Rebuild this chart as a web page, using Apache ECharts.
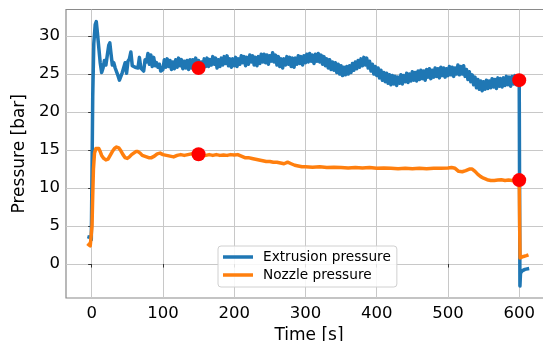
<!DOCTYPE html>
<html>
<head>
<meta charset="utf-8">
<script src="https://cdn.jsdelivr.net/npm/echarts@6/dist/echarts.min.js"></script>
<style>html,body{margin:0;padding:0;background:#fff}#c{width:543px;height:341px}</style>
</head>
<body>
<div id="c"></div>
<script>
// ---- data ----
const extrusionTime = [-6,-4,-2,-0.5,0.5,1.5,3,5,6.5,8,10,12,14,16,18,20,22,24,25.5,27,29,31,33,35,37,39,41,43,45,47,49,51,53,55,57,59,61,63,65,67,69,71,73,75,77,79,81,83,85,87,89,91,93,95,97,
  100,102,104,106,108,110,112,114,116,118,120,122,124,126,128,130,132,134,136,138,
  140,142,144,146,148,150,152,154,156,158,160,162,164,166,168,170,172,174,176,178,
  180,182,184,186,188,190,192,194,196,198,200,202,204,206,208,210,212,214,216,218,
  220,222,224,226,228,230,232,234,236,238,240,242,244,246,248,250,252,254,256,258,
  260,262,264,266,268,270,272,274,276,278,280,282,284,286,288,290,292,294,296,298,
  300,302,304,306,308,310,312,314,316,318,320,322,324,326,328,330,332,334,336,338,
  340,342,344,346,348,350,352,354,356,358,360,362,364,366,368,370,372,374,376,378,
  380,382,384,386,388,390,392,394,396,398,400,402,404,406,408,410,412,414,416,418,
  420,422,424,426,428,430,432,434,436,438,440,442,444,446,448,450,452,454,456,458,
  460,462,464,466,468,470,472,474,476,478,480,482,484,486,488,490,492,494,496,498,
  500,502,504,506,508,510,512,514,516,518,520,522,524,526,528,530,532,534,536,538,
  540,542,544,546,548,550,552,554,556,558,560,562,564,566,568,570,572,574,576,578,
  580,582,584,586,588,590,592,594,596,598,
  600,600.5,601,601.8,604,608,614];
const extrusionPressure = [3.6,3.4,3.5,3.2,12,22,29,31.5,31.9,30.5,28.5,26.5,25.2,25.8,26.8,26.2,27.5,28.8,29.1,27.8,26.2,26.5,25.8,25.3,24.8,24.2,
  24.0,25.2,25.3,26.5,25.1,26.7,27.0,27.9,26.1,26.3,25.9,26.1,25.8,27.2,25.8,25.9,25.4,26.9,26.6,27.7,26.3,27.5,26.0,27.2,26.1,26.5,25.9,26.3,25.4,
  25.6,26.9,25.9,27.0,26.0,26.8,25.6,26.6,25.7,26.9, 25.9,27.1,26.1,26.9,25.7,26.7,25.8,26.8,25.6,26.9,
  25.8,26.9,26.2,27.1,25.9,26.8,25.6,26.6,25.9,27.0, 26.0,27.1,26.0,26.9,26.2,27.3,26.3,27.1,25.8,26.9,
  26.0,27.1,26.2,27.3,26.4,27.4,26.1,27.0,25.9,27.0, 26.1,27.2,26.0,27.0,26.3,27.4,26.5,27.3,26.1,27.2,
  26.3,27.5,26.6,27.4,26.2,27.2,26.1,27.3,26.4,27.6, 26.6,27.6,26.5,27.5,26.3,27.4,26.7,27.8,26.6,27.5,
  26.2,27.3,26.0,27.0,25.8,27.0,26.2,27.3,26.3,27.2, 26.0,27.1,25.9,27.1,26.3,27.4,26.4,27.3,26.2,27.4,
  26.5,27.6,26.6,27.7,26.7,27.5,26.4,27.6,26.7,27.7, 26.6,27.5,26.3,27.3,26.1,27.0,25.8,26.9,25.6,26.6,
  25.5,26.5,25.2,26.3,25.0,26.1,24.8,25.9,24.9,26.0, 25.0,26.1,25.2,26.4,25.5,26.6,25.7,26.8,25.9,27.0,
  26.1,27.2,26.2,27.1,25.8,26.7,25.4,26.3,25.0,26.0, 24.8,25.8,24.5,25.5,24.2,25.2,24.0,25.1,23.8,24.9,
  23.6,24.8,23.7,24.7,23.5,24.6,23.8,24.9,23.7,24.8, 24.0,25.1,23.9,25.0,24.1,25.3,24.2,25.2,24.1,25.4,
  24.3,25.5,24.4,25.4,24.2,25.6,24.6,25.7,24.4,25.5, 24.6,25.8,24.7,25.7,24.5,25.9,24.8,25.8,24.6,25.7,
  24.8,26.0,24.9,25.9,24.7,25.8,25.0,26.2,24.9,26.0, 25.0,26.1,24.7,25.6,24.3,25.3,24.0,24.9,23.6,24.6,
  23.2,24.3,23.0,24.1,22.8,24.0,23.0,24.2,23.1,24.1, 23.2,24.4,23.3,24.3,23.1,24.5,23.4,24.4,23.3,24.5,
  23.5,24.7,23.6,24.6,23.4,24.7,23.7,24.8,23.6,24.6,
  24.1,10,-2.9,-1.2,-0.9,-0.7,-0.6];

const nozzleTime = [-6,-4,-2,-0.5,0.5,1.5,2.5,4,6,8,10,12,14,17,20,23,26,29,32,35,38,41,44,47,50,53,56,59,62,65,68,71,74,77,80,84,88,92,96,
  100,105,110,115,120,125,130,135,140,145,150,155,160,165,170,175,180,185,190,195,200,205,210,215,220,225,230,235,240,245,250,
  255,260,265,270,275,280,285,290,295,300,310,320,330,340,350,360,370,380,390,400,410,420,430,440,450,460,470,480,490,500,
  505,510,515,520,525,530,534,538,542,546,550,555,560,565,570,575,580,585,590,595,600,600.6,601.2,602.5,606,610,613];
const nozzlePressure = [2.7,2.5,2.4,2.6,5,9,12.5,14.6,15.2,15.3,15.2,14.8,14.3,13.9,13.7,13.8,14.3,14.8,15.2,15.4,15.3,14.9,14.4,14.0,13.9,14.1,14.4,14.6,14.8,14.8,14.6,14.3,14.2,14.1,14.0,14.0,14.2,14.5,14.6,
  14.4,14.3,14.2,14.1,14.3,14.4,14.3,14.4,14.5,14.4,14.45,14.4,14.3,14.4,14.3,14.4,14.3,14.35,14.3,14.4,14.35,14.4,14.2,14.0,14.0,13.9,13.8,13.7,13.6,13.5,13.5,
  13.4,13.4,13.3,13.2,13.4,13.2,13.0,12.9,12.8,12.8,12.75,12.8,12.7,12.75,12.7,12.65,12.7,12.65,12.7,12.6,12.65,12.6,12.55,12.6,12.55,12.6,12.55,12.6,12.6,12.65,
  12.7,12.6,12.2,12.15,12.3,12.5,12.5,12.2,11.8,11.5,11.3,11.1,11.0,11.0,11.05,11.1,11.0,11.05,11.0,11.05,11.05,5,0.8,0.9,1.0,1.1,1.2];

const markerTime = [150, 600, 150, 600];
const markerPressure = [25.8, 24.2, 14.45, 11.05];

const xTicks = [0, 100, 200, 300, 400, 500, 600];
const yTicks = [0, 5, 10, 15, 20, 25, 30];
const seriesNames = ['Extrusion pressure', 'Nozzle pressure'];

// ---- chart ----
const pair = (xs, ys) => xs.map((x, i) => [x, ys[i]]);
const FONT = 'DejaVu Sans';
const chart = echarts.init(document.getElementById('c'), null, {renderer: 'canvas'});
const gridLines = {show: true, lineStyle: {color: '#c8c8c8', width: 1}};
chart.setOption({
  animation: false,
  backgroundColor: '#fff',
  grid: {left: 66, top: 9.5, width: 486, height: 288.5, outerBoundsMode: 'none', containLabel: false,
         show: true, borderColor: '#8a8a8a', borderWidth: 1.2, backgroundColor: 'transparent'},
  xAxis: {
    type: 'value', min: -36, max: 646,
    name: 'Time [s]', nameLocation: 'middle', nameGap: 24,
    nameTextStyle: {fontFamily: FONT, fontSize: 17, color: '#000'},
    axisLine: {show: false},
    axisTick: {show: true, customValues: xTicks, length: 3.5, lineStyle: {color: '#333', width: 1}},
    axisLabel: {customValues: xTicks, fontFamily: FONT, fontSize: 16.5, color: '#000', margin: 7},
    splitLine: gridLines
  },
  yAxis: {
    type: 'value', min: -4.47, max: 33.5,
    name: 'Pressure [bar]', nameLocation: 'middle', nameGap: 34,
    nameTextStyle: {fontFamily: FONT, fontSize: 17, color: '#000'},
    axisLine: {show: false},
    axisTick: {show: true, customValues: yTicks, length: 3.5, lineStyle: {color: '#333', width: 1}},
    axisLabel: {customValues: yTicks, fontFamily: FONT, fontSize: 16.5, color: '#000', margin: 6},
    splitLine: gridLines
  },
  legend: {
    data: seriesNames, orient: 'vertical', left: 218, top: 246,
    icon: 'rect', itemWidth: 30, itemHeight: 3.5, itemGap: 4,
    padding: [4, 6, 5, 5],
    backgroundColor: 'rgba(255,255,255,0.85)', borderColor: '#d0d0d0', borderWidth: 1, borderRadius: 3,
    textStyle: {fontFamily: FONT, fontSize: 13.7, color: '#000', padding: [0, 0, 0, 5]}
  },
  series: [
    {name: seriesNames[0], type: 'line', data: pair(extrusionTime, extrusionPressure), showSymbol: false, symbol: 'none',
     sampling: 'none', lineStyle: {color: '#1f77b4', width: 3.5, join: 'round'}, itemStyle: {color: '#1f77b4'}, z: 3},
    {name: seriesNames[1], type: 'line', data: pair(nozzleTime, nozzlePressure), showSymbol: false, symbol: 'none',
     lineStyle: {color: '#ff7f0e', width: 3.5, join: 'round'}, itemStyle: {color: '#ff7f0e'}, z: 4},
    {name: 'markers', type: 'scatter', data: pair(markerTime, markerPressure), symbolSize: 14,
     itemStyle: {color: '#ff0000', opacity: 1}, z: 5}
  ]
});
</script>
</body>
</html>
